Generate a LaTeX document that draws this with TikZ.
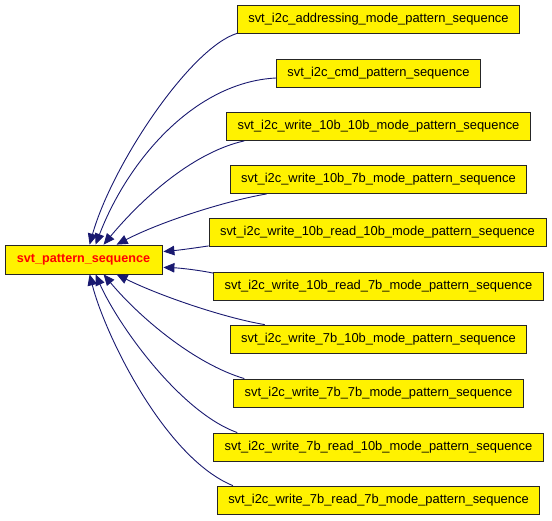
\documentclass[tikz,border=0pt]{standalone}
\usepackage{fontspec}
\setmainfont{Liberation Sans}
\usetikzlibrary{arrows.meta,calc}
\definecolor{edgeblue}{HTML}{191970}
\begin{document}
\begin{tikzpicture}[x=1pt,y=-1pt,
  box/.style={draw=black!85, line width=0.8pt, fill=yellow, minimum height=28pt,
    inner xsep=11pt, inner ysep=0pt, font=\fontsize{12.9}{14}\selectfont, anchor=center},
  edge/.style={draw=edgeblue, line width=0.9pt, -{Triangle[length=11pt,width=9.5pt]}}]
\useasboundingbox (0,0) rectangle (552,520);
\node[box, font=\fontsize{12.6}{14}\selectfont\bfseries, text=red, minimum width=157pt, minimum height=29pt] (main) at (83.5,259.5) {svt\_pattern\_sequence};
\node[box] (b1) at (378.5,19) {svt\_i2c\_addressing\_mode\_pattern\_sequence};
\node[box] (b2) at (378.5,73) {svt\_i2c\_cmd\_pattern\_sequence};
\node[box] (b3) at (378.5,126.5) {svt\_i2c\_write\_10b\_10b\_mode\_pattern\_sequence};
\node[box] (b4) at (378.5,179.5) {svt\_i2c\_write\_10b\_7b\_mode\_pattern\_sequence};
\node[box] (b5) at (377.5,232.5) {svt\_i2c\_write\_10b\_read\_10b\_mode\_pattern\_sequence};
\node[box] (b6) at (378.5,286.5) {svt\_i2c\_write\_10b\_read\_7b\_mode\_pattern\_sequence};
\node[box] (b7) at (378.5,339) {svt\_i2c\_write\_7b\_10b\_mode\_pattern\_sequence};
\node[box] (b8) at (378.5,393) {svt\_i2c\_write\_7b\_7b\_mode\_pattern\_sequence};
\node[box] (b9) at (378.5,447) {svt\_i2c\_write\_7b\_read\_10b\_mode\_pattern\_sequence};
\node[box] (b10) at (378.5,500) {svt\_i2c\_write\_7b\_read\_7b\_mode\_pattern\_sequence};
% edges
\draw[edge] (b1.south west) .. controls (190,48) and (112,165) .. ($(main.north west)+(85,0)$);
\draw[edge] ($(b2.west)+(0,5)$) .. controls (195,82) and (128,160) .. ($(main.north west)+(91,0)$);
\draw[edge] ($(b3.south west)+(18,0)$) .. controls (195,152) and (145,195) .. ($(main.north west)+(99,0)$);
\draw[edge] ($(b4.south west)+(37,0)$) .. controls (225,201) and (160,222) .. ($(main.north west)+(112,0)$);
\draw[edge] ($(b5.south west)+(0,-1)$) .. controls (195,248) and (180,250) .. ($(main.north east)+(1,7)$);
\draw[edge] ($(b6.north west)+(0,1)$) .. controls (198,270) and (180,268) .. ($(main.south east)+(1,-7)$);
\draw[edge] ($(b7.north west)+(35,0)$) .. controls (225,318) and (160,296) .. ($(main.south west)+(112,0)$);
\draw[edge] ($(b8.north west)+(11,0)$) .. controls (195,364) and (140,318) .. ($(main.south west)+(99,0)$);
\draw[edge] ($(b9.north west)+(24,0)$) .. controls (180,412) and (118,325) .. ($(main.south west)+(91,0)$);
\draw[edge] ($(b10.north west)+(16,0)$) .. controls (165,458) and (105,335) .. ($(main.south west)+(85,0)$);
\end{tikzpicture}
\end{document}
